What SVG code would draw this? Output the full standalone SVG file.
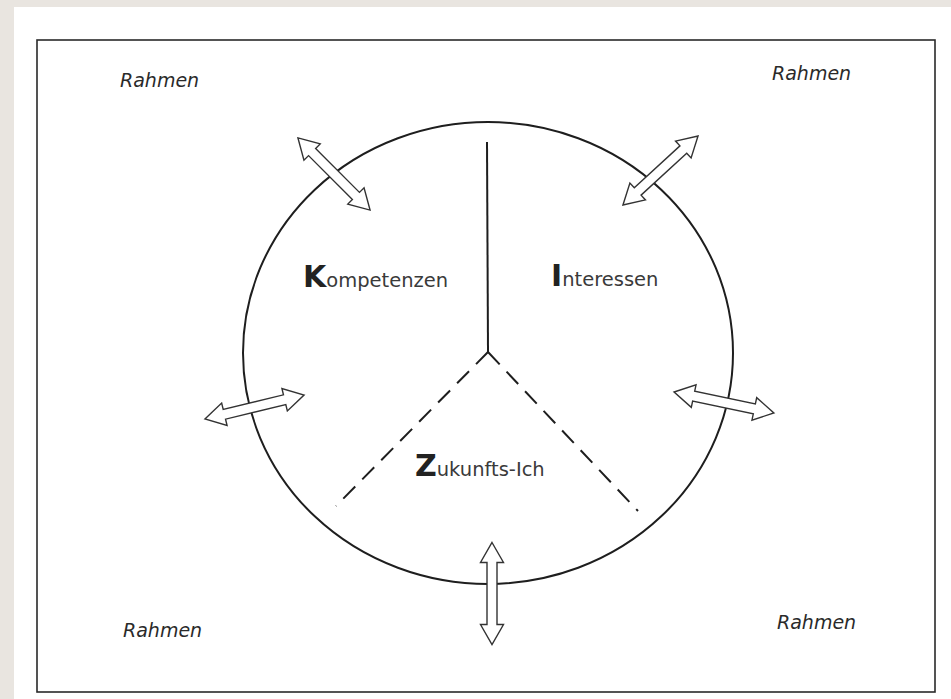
<svg xmlns="http://www.w3.org/2000/svg" width="951" height="699" viewBox="0 0 951 699">
  <style>
    .frame { fill: none; stroke: #2a2a2a; stroke-width: 1.6; }
    .line { fill: none; stroke: #1e1e1e; stroke-width: 2; }
    .dash { fill: none; stroke: #1e1e1e; stroke-width: 2; stroke-dasharray: 17 10; }
    .rahmen { font-family: "DejaVu Sans", Verdana, sans-serif; font-style: italic; font-size: 19px; fill: #2a2a2a; }
    .lbl { font-family: "DejaVu Sans", Verdana, sans-serif; font-size: 19.5px; fill: #3a3a3a; }
    .big { font-family: "DejaVu Sans", Verdana, sans-serif; font-weight: bold; font-size: 30px; fill: #222; }
    .arrow { fill: #ffffff; stroke: #333; stroke-width: 1.4; stroke-linejoin: miter; }
  </style>
  <defs>
    <path id="dbl" class="arrow" d="M -51 0 L -31 -11.5 L -31 -5 L 31 -5 L 31 -11.5 L 51 0 L 31 11.5 L 31 5 L -31 5 L -31 11.5 Z"/>
  </defs>
  <rect x="0" y="0" width="951" height="699" fill="#e9e5e0"/>
  <rect x="14" y="7" width="937" height="692" fill="#ffffff"/>
  <rect id="frame" class="frame" x="37" y="40" width="898" height="652"/>

  <g id="circle">
    <ellipse class="line" cx="488" cy="353" rx="245" ry="231"/>
  </g>

  <g id="dividers">
    <line class="line" x1="487" y1="142" x2="488" y2="352"/>
    <line class="dash" x1="488" y1="352" x2="336" y2="506"/>
    <line class="dash" x1="488" y1="352" x2="638" y2="511"/>
  </g>

  <g id="kompetenzen">
    <text x="303" y="287"><tspan class="big">K</tspan><tspan class="lbl">ompetenzen</tspan></text>
  </g>
  <g id="interessen">
    <text x="551" y="286"><tspan class="big" font-family="'DejaVu Sans Mono', monospace">I</tspan><tspan class="lbl">nteressen</tspan></text>
  </g>
  <g id="zukunfts-ich">
    <text x="415" y="476"><tspan class="big">Z</tspan><tspan class="lbl">ukunfts-Ich</tspan></text>
  </g>

  <g id="rahmen-labels">
    <text class="rahmen" x="120" y="87">Rahmen</text>
    <text class="rahmen" x="772" y="80">Rahmen</text>
    <text class="rahmen" x="123" y="637">Rahmen</text>
    <text class="rahmen" x="777" y="629">Rahmen</text>
  </g>

  <g id="connectors">
    <use href="#dbl" transform="translate(334 174) rotate(45)"/>
    <use href="#dbl" transform="translate(660.5 170.5) rotate(-42.6)"/>
    <use href="#dbl" transform="translate(254.5 407) rotate(-13.6)"/>
    <use href="#dbl" transform="translate(724 402.5) rotate(11.9)"/>
    <use href="#dbl" transform="translate(492 593.5) rotate(90)"/>
  </g>
</svg>
